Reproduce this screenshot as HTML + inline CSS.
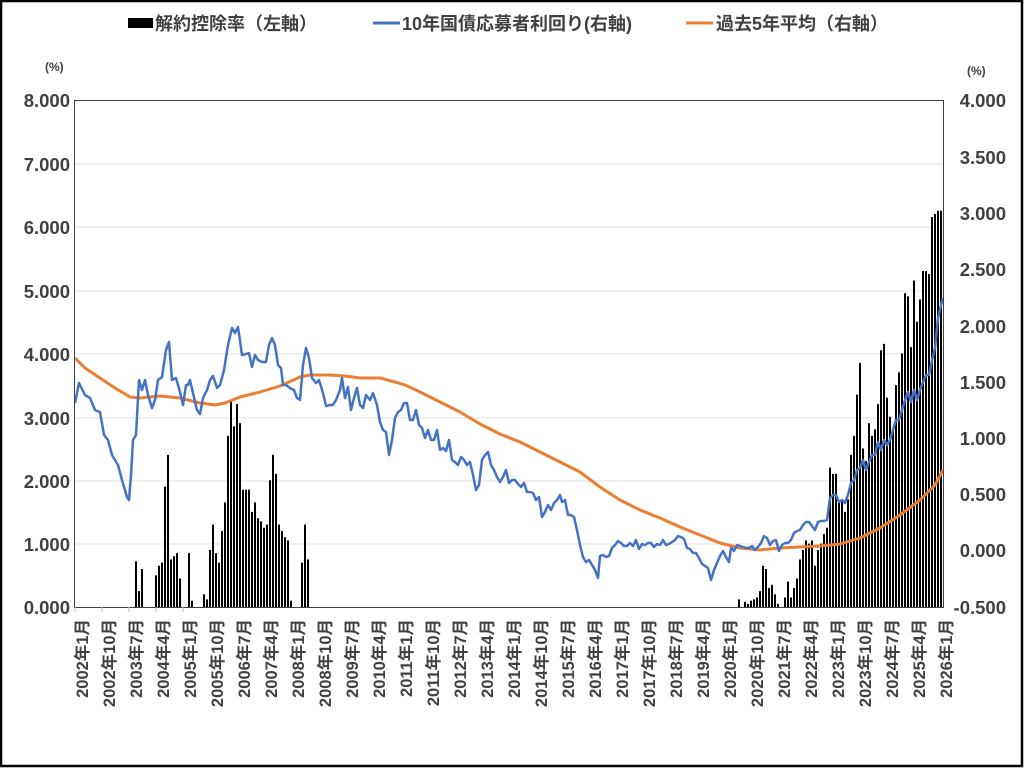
<!DOCTYPE html>
<html><head><meta charset="utf-8"><style>
body{margin:0;background:#fff}
svg text{font-family:"Liberation Sans","Noto Sans CJK JP",sans-serif;font-weight:bold;fill:#404040}
</style></head><body>
<svg id="s" width="1024" height="768" xmlns="http://www.w3.org/2000/svg">
<rect x="1" y="1" width="1021" height="765" fill="#fff" stroke="#000" stroke-width="2.5"/>
<g stroke="#e0e0e0" stroke-width="1">
<line x1="75" x2="944" y1="164" y2="164"/><line x1="75" x2="944" y1="227" y2="227"/><line x1="75" x2="944" y1="291" y2="291"/><line x1="75" x2="944" y1="354" y2="354"/><line x1="75" x2="944" y1="418" y2="418"/><line x1="75" x2="944" y1="481" y2="481"/><line x1="75" x2="944" y1="544" y2="544"/>
</g>
<g id="bars" fill="#000"></g>
<polyline id="orange" fill="none" stroke="#ed7d31" stroke-width="3" stroke-linejoin="round"/>
<polyline id="blue" fill="none" stroke="#4472c4" stroke-width="2.5" stroke-linejoin="round"/>
<rect x="74.5" y="100.5" width="869" height="507" fill="none" stroke="#404040" stroke-width="1"/>
<g stroke="#bfbfbf"><line x1="75" x2="75" y1="607" y2="612"/><line x1="102" x2="102" y1="607" y2="612"/><line x1="129" x2="129" y1="607" y2="612"/><line x1="156" x2="156" y1="607" y2="612"/><line x1="183" x2="183" y1="607" y2="612"/></g>
<g font-size="18.5" text-anchor="end">
<text x="70" y="107">8.000</text><text x="70" y="171">7.000</text><text x="70" y="234">6.000</text><text x="70" y="298">5.000</text><text x="70" y="361">4.000</text><text x="70" y="425">3.000</text><text x="70" y="488">2.000</text><text x="70" y="551">1.000</text><text x="70" y="614">0.000</text>
</g>
<g font-size="18.5" text-anchor="end">
<text x="1006" y="107">4.000</text><text x="1006" y="164">3.500</text><text x="1006" y="220">3.000</text><text x="1006" y="276">2.500</text><text x="1006" y="333">2.000</text><text x="1006" y="389">1.500</text><text x="1006" y="445">1.000</text><text x="1006" y="501">0.500</text><text x="1006" y="557">0.000</text><text x="1006" y="614">-0.500</text>
</g>
<text x="45" y="71" font-size="12">(%)</text><text x="967" y="75" font-size="12">(%)</text>
<g font-size="18">
<rect x="128" y="18" width="25" height="10" fill="#000"/><text x="155" y="30">解約控除率（左軸）</text>
<line x1="373" x2="400" y1="23" y2="23" stroke="#4472c4" stroke-width="3"/><text x="402" y="30">10年国債応募者利回り(右軸)</text>
<line x1="686" x2="713" y1="23" y2="23" stroke="#ed7d31" stroke-width="3"/><text x="716" y="30">過去5年平均（右軸）</text>
</g>
<g id="xl" font-size="16.5" text-anchor="end">
<text transform="translate(88,619) rotate(-90)">2002年1月</text>
<text transform="translate(115,619) rotate(-90)">2002年10月</text>
<text transform="translate(142,619) rotate(-90)">2003年7月</text>
<text transform="translate(169,619) rotate(-90)">2004年4月</text>
<text transform="translate(196,619) rotate(-90)">2005年1月</text>
<text transform="translate(223,619) rotate(-90)">2005年10月</text>
<text transform="translate(250,619) rotate(-90)">2006年7月</text>
<text transform="translate(277,619) rotate(-90)">2007年4月</text>
<text transform="translate(304,619) rotate(-90)">2008年1月</text>
<text transform="translate(331,619) rotate(-90)">2008年10月</text>
<text transform="translate(358,619) rotate(-90)">2009年7月</text>
<text transform="translate(385,619) rotate(-90)">2010年4月</text>
<text transform="translate(412,619) rotate(-90)">2011年1月</text>
<text transform="translate(439,619) rotate(-90)">2011年10月</text>
<text transform="translate(466,619) rotate(-90)">2012年7月</text>
<text transform="translate(493,619) rotate(-90)">2013年4月</text>
<text transform="translate(520,619) rotate(-90)">2014年1月</text>
<text transform="translate(547,619) rotate(-90)">2014年10月</text>
<text transform="translate(574,619) rotate(-90)">2015年7月</text>
<text transform="translate(601,619) rotate(-90)">2016年4月</text>
<text transform="translate(628,619) rotate(-90)">2017年1月</text>
<text transform="translate(655,619) rotate(-90)">2017年10月</text>
<text transform="translate(682,619) rotate(-90)">2018年7月</text>
<text transform="translate(709,619) rotate(-90)">2019年4月</text>
<text transform="translate(736,619) rotate(-90)">2020年1月</text>
<text transform="translate(763,619) rotate(-90)">2020年10月</text>
<text transform="translate(790,619) rotate(-90)">2021年7月</text>
<text transform="translate(817,619) rotate(-90)">2022年4月</text>
<text transform="translate(844,619) rotate(-90)">2023年1月</text>
<text transform="translate(871,619) rotate(-90)">2023年10月</text>
<text transform="translate(898,619) rotate(-90)">2024年7月</text>
<text transform="translate(925,619) rotate(-90)">2025年4月</text>
<text transform="translate(952,619) rotate(-90)">2026年1月</text>
</g>
</svg>
<script>
var blue=[75,403,79,383,85,395,90,398,95,410,100,412,104,435,108,440,112,455,118,465,122,480,127,497,129,500,131,475,133,440,136,435,139,380,142,390,145,380,148,395,152,408,155,400,158,380,162,377,166,350,169,342,172,380,176,378,180,392,183,405,186,385,188,385,190,380,193,393,197,410,200,414,203,398,207,390,210,380,213,376,217,388,220,385,224,370,228,345,232,328,235,333,238,327,242,355,246,354,249,353,252,367,255,355,258,360,262,362,266,362,269,345,272,338,275,345,278,365,281,368,283,385,286,385,290,388,294,390,297,398,300,400,303,365,306,348,309,358,312,378,316,383,319,380,323,393,326,406,330,405,333,405,336,400,340,390,342,378,345,398,348,387,351,410,354,398,357,388,360,405,363,408,366,395,370,400,373,393,377,405,380,422,383,430,386,432,389,455,392,440,395,418,398,412,401,410,404,403,407,403,410,420,413,420,416,410,419,425,422,428,425,438,428,430,431,440,434,440,437,430,440,450,443,448,446,451,449,440,452,460,455,462,458,465,461,457,464,460,467,465,470,462,473,475,476,490,479,485,482,460,485,455,488,452,491,465,494,470,497,477,500,482,503,477,506,470,509,483,512,480,515,480,518,484,521,487,524,483,527,492,530,492,533,493,536,500,539,497,542,517,545,512,548,505,551,510,554,503,557,500,560,495,562,502,565,500,568,515,571,515,574,517,577,530,580,545,583,557,586,562,589,560,592,565,595,570,598,578,600,556,603,555,606,557,609,556,612,548,615,545,618,541,621,543,624,546,627,546,630,543,633,546,636,540,639,549,642,544,645,545,648,543,651,543,654,547,657,544,660,545,663,540,666,545,669,544,672,542,675,540,678,536,681,537,684,539,687,548,690,549,693,553,696,553,699,558,702,564,705,566,708,568,711,580,714,570,717,563,720,556,723,551,726,557,729,562,731,548,734,551,737,545,740,546,743,547,746,548,749,548,752,546,755,550,758,547,761,543,764,536,767,538,770,545,773,541,776,540,779,551,782,545,785,543,788,543,791,540,794,533,797,531,800,530,803,525,806,522,809,522,812,526,815,530,818,522,821,521,824,521,827,520,830,498,833,495,836,495,839,502,842,500,845,503,848,495,851,483,854,480,857,470,860,468,863,460,866,470,869,462,872,455,875,455,878,442,881,450,884,440,887,445,890,440,893,430,896,420,899,420,902,410,905,400,908,392,911,402,914,390,917,400,920,390,923,382,926,375,929,375,932,360,935,348,938,318,941,305,943,298];
var orange=[75,358,85,368,100,378,115,388,130,397,140,398,160,396,180,398,200,403,215,405,225,403,240,397,260,392,280,386,300,377,310,375,330,375,345,376,360,378,380,378,395,382,405,385,420,392,440,402,460,412,480,424,500,434,520,442,540,452,560,462,580,472,600,487,620,500,640,510,660,518,680,527,700,535,720,543,740,548,760,550,780,548,800,547,820,546,840,544,860,538,880,528,900,515,920,500,935,485,943,470];
function pts(a){var s=[];for(var i=0;i<a.length;i+=2)s.push(a[i]+','+a[i+1]);return s.join(' ');}
document.getElementById('blue').setAttribute('points',pts(blue));
document.getElementById('orange').setAttribute('points',pts(orange));
var bars=[136,0.72,139,0.25,142,0.6,156,0.5,159,0.65,162,0.7,165,1.9,168,2.4,171,0.75,174,0.8,177,0.85,180,0.45,189,0.85,192,0.1,204,0.2,207,0.12,210,0.9,213,1.3,216,0.85,219,0.7,222,1.2,225,1.65,228,2.7,231,3.25,234,2.85,237,3.2,240,2.9,243,1.85,246,1.85,249,1.85,252,1.5,255,1.65,258,1.4,261,1.35,264,1.25,267,1.3,270,2.0,273,2.4,276,2.1,279,1.3,282,1.2,285,1.1,288,1.05,291,0.1,302,0.7,305,1.3,308,0.75,739,0.12,745,0.08,748,0.05,751,0.1,754,0.12,757,0.15,760,0.25,763,0.65,766,0.6,769,0.3,772,0.35,775,0.2,778,0.05,785,0.15,788,0.4,791,0.15,794,0.3,797,0.45,800,0.75,803,0.9,806,1.05,809,1.0,812,1.05,815,0.65,818,0.9,821,1.0,824,1.15,827,1.25,830,2.2,833,2.1,836,2.1,839,1.65,842,1.7,845,1.5,848,1.7,851,2.4,854,2.7,857,3.35,860,3.85,863,2.5,866,2.3,869,2.9,872,2.7,875,2.8,878,3.2,881,4.05,884,4.15,887,3.3,890,3.0,893,2.8,896,3.5,899,3.7,902,4.0,905,4.95,908,4.9,911,4.1,914,5.15,917,4.5,920,4.85,923,5.3,926,5.3,929,5.25,932,6.15,935,6.2,938,6.25,941,6.25];
var g=document.getElementById('bars'),h='';
for(var i=0;i<bars.length;i+=2){var v=bars[i+1]*63.4;h+='<rect x="'+(bars[i]-1)+'" y="'+(607-v)+'" width="2" height="'+v+'"/>';}
g.innerHTML=h;
</script>
</body></html>
